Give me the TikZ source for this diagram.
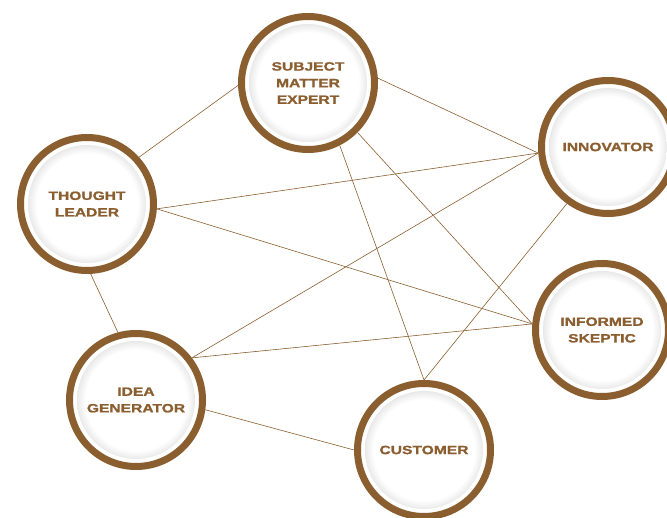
\documentclass[tikz,border=0pt]{standalone}
\usepackage{fontspec}
\usepackage{tikz}
\usetikzlibrary{shapes}
\newfontfamily\plaquefont{Liberation Sans}[FakeStretch=1.3,FakeBold=1.2]
\definecolor{bronze}{RGB}{139,94,48}
\pgfdeclareradialshading{disc}{\pgfpoint{0bp}{0bp}}{color(0bp)=(white); color(19bp)=(white); color(23.5bp)=(black!12); color(24.4bp)=(black!28); color(25bp)=(black!42); color(50bp)=(black!42)}

\begin{document}
\begin{tikzpicture}[x=1pt, y=-1pt]
    \tikzstyle{every node} = [font=\plaquefont\bfseries\fontsize{12}{16.6}\selectfont]
    \tikzstyle{link} = [draw=bronze, line width=0.6pt]
    \tikzstyle{persona} = [circle, align=center, text=bronze, draw=bronze, line width=7pt, fill=white, minimum size=133pt,
      path picture={\shade[shading=disc] (path picture bounding box.center) circle (59pt);}]

    \useasboundingbox (0,0) rectangle (667,518);

    \node (expert) [persona] at (308,83) {SUBJECT\\MATTER\\EXPERT};
    \node (leader) [persona] at (87,204) {THOUGHT\\LEADER};
    \node (innovator) [persona] at (608,147) {INNOVATOR};
    \node (skeptic) [persona] at (602,330) {INFORMED\\SKEPTIC};
    \node (generator) [persona] at (136,400) {IDEA\\GENERATOR};
    \node (customer) [persona] at (424,450) {CUSTOMER};

    % links between the personas
    \draw [link] (expert.182) -- (leader.42);
    \draw [link] (expert.4) -- (innovator.185);
    \draw [link] (expert.-45) -- (skeptic.175);
    \draw [link] (expert.-63) -- (customer.north);
    \draw [link] (leader.-4) -- (innovator.185);
    \draw [link] (leader.-4) -- (skeptic.175);
    \draw [link] (leader.-87) -- (generator.105);
    \draw [link] (generator.37) -- (innovator.185);
    \draw [link] (generator.37) -- (skeptic.175);
    \draw [link] (generator.-8) -- (customer.west);
    \draw [link] (customer.north) -- (innovator.-126);
\end{tikzpicture}
\end{document}
